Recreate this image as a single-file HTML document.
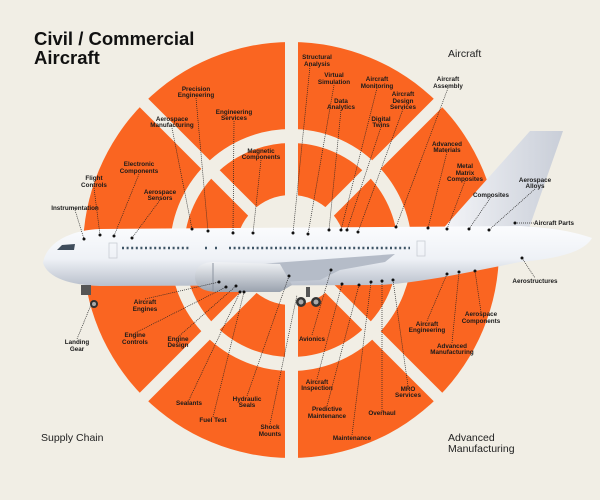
<!DOCTYPE html>
<html><head><meta charset="utf-8"><style>
html,body{margin:0;padding:0;background:#F1EEE5;}
svg{display:block;}
.l{font-family:"Liberation Sans",sans-serif;font-size:6.3px;font-weight:bold;fill:#1a1a1a;text-anchor:middle;}
.c{font-family:"Liberation Sans",sans-serif;font-size:10.5px;fill:#222;}
.d{stroke:#222;stroke-width:0.7;stroke-dasharray:1 1;fill:none;}
</style></head><body>
<svg width="600" height="500" viewBox="0 0 600 500" xmlns="http://www.w3.org/2000/svg">
<defs>
<linearGradient id="fg" x1="0" y1="0" x2="0" y2="1"><stop offset="0" stop-color="#fbfcfe"/><stop offset="0.55" stop-color="#eef1f6"/><stop offset="1" stop-color="#b9c0cc"/></linearGradient>
<linearGradient id="tg" x1="0" y1="0" x2="1" y2="0"><stop offset="0" stop-color="#f4f5f8"/><stop offset="1" stop-color="#c9ced8"/></linearGradient>
<linearGradient id="eg" x1="0" y1="0" x2="0" y2="1"><stop offset="0" stop-color="#f0f2f5"/><stop offset="1" stop-color="#9aa2ae"/></linearGradient>
</defs>
<rect width="600" height="500" fill="#F1EEE5"/>
<circle cx="291" cy="250" r="208" fill="#FA6521"/>
<circle cx="291" cy="250" r="114" fill="none" stroke="#F1EEE5" stroke-width="14"/>
<circle cx="291" cy="250" r="55" fill="#F1EEE5"/>
<rect x="285" y="30" width="13" height="440" fill="#F1EEE5"/>
<line x1="81" y1="40" x2="501" y2="460" stroke="#F1EEE5" stroke-width="12"/>
<line x1="501" y1="40" x2="81" y2="460" stroke="#F1EEE5" stroke-width="12"/>

<text x="34" y="45" font-family="Liberation Sans,sans-serif" font-weight="bold" font-size="18.5" fill="#111">Civil / Commercial</text>
<text x="34" y="64" font-family="Liberation Sans,sans-serif" font-weight="bold" font-size="18.5" fill="#111">Aircraft</text>
<text class="c" x="448" y="57">Aircraft</text>
<text class="c" x="41" y="441">Supply Chain</text>
<text class="c" x="448" y="441">Advanced</text>
<text class="c" x="448" y="452">Manufacturing</text>

<!-- plane -->
<path d="M440,232 L530,131 L563,131 L527,234 Z" fill="url(#tg)"/>
<path d="M43,263 C46,243 70,230 100,229 L520,226 C555,228 575,232 592,238 C585,250 565,258 520,262 L470,272 C430,280 400,284 380,285 L100,286 C70,285 48,278 43,263 Z" fill="url(#fg)"/>
<path d="M57,250 L62,245 L75,244 L74,250 Z" fill="#3f4d5c"/>
<rect x="109" y="243" width="8" height="15" fill="none" stroke="#c8ccd4" stroke-width="0.8"/>
<rect x="417" y="241" width="8" height="15" fill="none" stroke="#c8ccd4" stroke-width="0.8"/>
<line x1="122" y1="248" x2="190" y2="248" stroke="#3f5566" stroke-width="2.5" stroke-dasharray="2 2.6"/>
<line x1="205" y1="248" x2="222" y2="248" stroke="#3f5566" stroke-width="2.5" stroke-dasharray="2 8"/>
<line x1="229" y1="248" x2="410" y2="248" stroke="#3f5566" stroke-width="2.5" stroke-dasharray="2 2.6"/>
<path d="M233,266 L300,261 L395,254 L385,262 L340,270 L320,280 L260,283 Z" fill="#b5bcc8"/>
<path d="M195,277 C195,265 205,262 215,262 L280,264 L292,285 L280,292 L215,292 C203,291 195,287 195,277 Z" fill="url(#eg)"/>
<path d="M213,263 L213,291" stroke="#8c94a0" stroke-width="1"/>
<rect x="81" y="285" width="10" height="10" fill="#555"/>
<circle cx="94" cy="304" r="4" fill="#333"/><circle cx="94" cy="304" r="2" fill="#aaa"/>
<rect x="306" y="287" width="4" height="10" fill="#555"/>
<circle cx="301" cy="302" r="5" fill="#333"/><circle cx="301" cy="302" r="2.5" fill="#aaa"/>
<circle cx="316" cy="302" r="5" fill="#333"/><circle cx="316" cy="302" r="2.5" fill="#aaa"/>

<!-- leaders -->
<g class="d">
<path d="M196,98 L208,231"/><path d="M172,128 L192,229"/><path d="M234,121 L233,233"/><path d="M261,160 L253,233"/>
<path d="M139,174 L114,236"/><path d="M94,188 L100,235"/><path d="M160,200 L132,238"/><path d="M75,210 L84,239"/>
<path d="M310,66 L293,233"/><path d="M334,85 L308,234"/><path d="M341,110 L329,230"/><path d="M377,88 L341,230"/>
<path d="M403,109 L358,232"/><path d="M381,127 L347,230"/><path d="M448,88 L396,227"/><path d="M447,152 L428,228"/>
<path d="M465,181 L447,229"/><path d="M491,197 L469,229"/><path d="M535,189 L489,230"/><path d="M515,223 L535,223"/>
<path d="M522,258 L535,278"/><path d="M481,312 L475,271"/><path d="M427,321 L447,274"/><path d="M452,343 L459,272"/>
<path d="M408,386 L393,280"/><path d="M382,411 L382,281"/><path d="M352,435 L371,282"/><path d="M327,406 L359,285"/>
<path d="M317,379 L342,284"/><path d="M312,335 L331,270"/><path d="M270,424 L297,295"/><path d="M247,396 L289,276"/>
<path d="M213,417 L244,292"/><path d="M189,400 L240,292"/><path d="M178,337 L236,286"/><path d="M135,333 L226,287"/>
<path d="M145,299 L219,282"/><path d="M77,339 L93,300"/>
</g>
<g fill="#111">
<circle cx="208" cy="231" r="1.5"/><circle cx="192" cy="229" r="1.5"/><circle cx="233" cy="233" r="1.5"/><circle cx="253" cy="233" r="1.5"/>
<circle cx="114" cy="236" r="1.5"/><circle cx="100" cy="235" r="1.5"/><circle cx="132" cy="238" r="1.5"/><circle cx="84" cy="239" r="1.5"/>
<circle cx="293" cy="233" r="1.5"/><circle cx="308" cy="234" r="1.5"/><circle cx="329" cy="230" r="1.5"/><circle cx="341" cy="230" r="1.5"/>
<circle cx="358" cy="232" r="1.5"/><circle cx="347" cy="230" r="1.5"/><circle cx="396" cy="227" r="1.5"/><circle cx="428" cy="228" r="1.5"/>
<circle cx="447" cy="229" r="1.5"/><circle cx="469" cy="229" r="1.5"/><circle cx="489" cy="230" r="1.5"/><circle cx="515" cy="223" r="1.5"/>
<circle cx="522" cy="258" r="1.5"/><circle cx="475" cy="271" r="1.5"/><circle cx="447" cy="274" r="1.5"/><circle cx="459" cy="272" r="1.5"/>
<circle cx="393" cy="280" r="1.5"/><circle cx="382" cy="281" r="1.5"/><circle cx="371" cy="282" r="1.5"/><circle cx="359" cy="285" r="1.5"/>
<circle cx="342" cy="284" r="1.5"/><circle cx="331" cy="270" r="1.5"/><circle cx="289" cy="276" r="1.5"/><circle cx="244" cy="292" r="1.5"/>
<circle cx="240" cy="292" r="1.5"/><circle cx="236" cy="286" r="1.5"/><circle cx="226" cy="287" r="1.5"/><circle cx="219" cy="282" r="1.5"/>
</g>

<!-- labels -->
<text class="l" x="196" y="91">Precision</text><text class="l" x="196" y="97">Engineering</text>
<text class="l" x="172" y="121">Aerospace</text><text class="l" x="172" y="127">Manufacturing</text>
<text class="l" x="234" y="114">Engineering</text><text class="l" x="234" y="120">Services</text>
<text class="l" x="261" y="153">Magnetic</text><text class="l" x="261" y="159">Components</text>
<text class="l" x="139" y="166">Electronic</text><text class="l" x="139" y="173">Components</text>
<text class="l" x="94" y="180">Flight</text><text class="l" x="94" y="187">Controls</text>
<text class="l" x="160" y="194">Aerospace</text><text class="l" x="160" y="200">Sensors</text>
<text class="l" x="75" y="210">Instrumentation</text>
<text class="l" x="317" y="59">Structural</text><text class="l" x="317" y="66">Analysis</text>
<text class="l" x="334" y="77">Virtual</text><text class="l" x="334" y="84">Simulation</text>
<text class="l" x="341" y="103">Data</text><text class="l" x="341" y="109">Analytics</text>
<text class="l" x="377" y="81">Aircraft</text><text class="l" x="377" y="88">Monitoring</text>
<text class="l" x="403" y="96">Aircraft</text><text class="l" x="403" y="103">Design</text><text class="l" x="403" y="109">Services</text>
<text class="l" x="381" y="121">Digital</text><text class="l" x="381" y="127">Twins</text>
<text class="l" x="448" y="81">Aircraft</text><text class="l" x="448" y="88">Assembly</text>
<text class="l" x="447" y="146">Advanced</text><text class="l" x="447" y="152">Materials</text>
<text class="l" x="465" y="168">Metal</text><text class="l" x="465" y="175">Matrix</text><text class="l" x="465" y="181">Composites</text>
<text class="l" x="491" y="197">Composites</text>
<text class="l" x="535" y="182">Aerospace</text><text class="l" x="535" y="188">Alloys</text>
<text class="l" x="554" y="225">Aircraft Parts</text>
<text class="l" x="535" y="283">Aerostructures</text>
<text class="l" x="481" y="316">Aerospace</text><text class="l" x="481" y="323">Components</text>
<text class="l" x="427" y="326">Aircraft</text><text class="l" x="427" y="332">Engineering</text>
<text class="l" x="452" y="348">Advanced</text><text class="l" x="452" y="354">Manufacturing</text>
<text class="l" x="408" y="391">MRO</text><text class="l" x="408" y="397">Services</text>
<text class="l" x="382" y="415">Overhaul</text>
<text class="l" x="352" y="440">Maintenance</text>
<text class="l" x="327" y="411">Predictive</text><text class="l" x="327" y="418">Maintenance</text>
<text class="l" x="317" y="384">Aircraft</text><text class="l" x="317" y="390">Inspection</text>
<text class="l" x="312" y="341">Avionics</text>
<text class="l" x="270" y="429">Shock</text><text class="l" x="270" y="436">Mounts</text>
<text class="l" x="247" y="401">Hydraulic</text><text class="l" x="247" y="407">Seals</text>
<text class="l" x="213" y="422">Fuel Test</text>
<text class="l" x="189" y="405">Sealants</text>
<text class="l" x="178" y="341">Engine</text><text class="l" x="178" y="347">Design</text>
<text class="l" x="135" y="337">Engine</text><text class="l" x="135" y="344">Controls</text>
<text class="l" x="145" y="304">Aircraft</text><text class="l" x="145" y="311">Engines</text>
<text class="l" x="77" y="344">Landing</text><text class="l" x="77" y="351">Gear</text>
</svg>
</body></html>
